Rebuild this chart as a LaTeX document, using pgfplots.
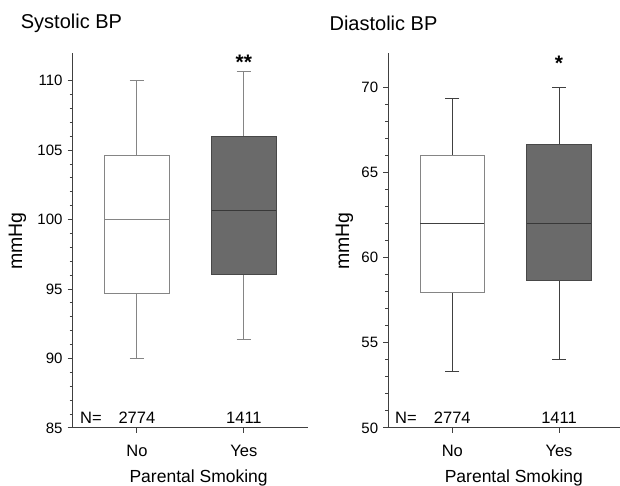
\documentclass[border=0pt]{standalone}
\usepackage{fontspec}
\setmainfont{Liberation Sans}
\usepackage{pgfplots}
\pgfplotsset{compat=1.18}
\usepgfplotslibrary{statistics}

\definecolor{axgray}{HTML}{404040}
\definecolor{boxdark}{HTML}{6A6A6A}
\definecolor{edgedark}{HTML}{484848}
\definecolor{meddark}{HTML}{383838}
\definecolor{lightedge}{HTML}{858585}

\pgfplotsset{
  bpstyle/.style={
    scale only axis,
    height=375pt,
    anchor=south west,
    axis x line=bottom,
    axis y line=left,
    axis line style={-, axgray, line width=1pt},
    tick style={axgray, line width=1pt},
    tick align=outside,
    major tick length=5pt,
    minor tick length=3pt,
    minor y tick num=4,
    xtick={1,2},
    xticklabels={No,Yes},
    xmin=0.4, xmax=2.6,
    clip=false,
    boxplot/draw direction=y,
    /pgf/number format/assume math mode=true,
    yticklabel style={font=\fontsize{15}{18}\selectfont, inner sep=0pt, xshift=-5pt},
    xticklabel style={font=\fontsize{16.5}{20}\selectfont, inner sep=0pt, yshift=-12pt},
    xlabel={Parental Smoking},
    xlabel style={font=\fontsize{17.5}{21}\selectfont, inner sep=0pt, anchor=north,
      at={(axis description cs:0.535,0)}, yshift=-42pt},
    ylabel={mmHg},
    title style={font=\fontsize{20}{24}\selectfont, inner sep=0pt, anchor=west},
  }
}

\begin{document}
\begin{tikzpicture}
\path[use as bounding box] (0,0) rectangle (620pt,486pt);

% Systolic BP
\begin{axis}[bpstyle,
  at={(72.7pt,58pt)},
  width=235.4pt,
  ymin=85, ymax=112,
  ytick={85,90,95,100,105,110},
  title={Systolic BP},
  title style={at={(axis description cs:-0.221,1.064)}},
  ylabel style={font=\fontsize{19.5}{23}\selectfont, inner sep=0pt, anchor=center,
    at={(axis description cs:-0.2346,0.499)}},
]
\addplot+[mark=none, draw=lightedge, fill=white, solid, line width=1pt,
  boxplot prepared={draw position=1, median=100, upper quartile=104.65,
    lower quartile=94.65, upper whisker=110, lower whisker=90,
    box extend=0.6, whisker extend=0.13,
    every whisker/.style={lightedge, line width=1pt},
    every median/.style={lightedge, line width=1pt}}] coordinates {};
\addplot+[mark=none, draw=edgedark, fill=boxdark, solid, line width=1pt,
  boxplot prepared={draw position=2, median=100.67, upper quartile=105.97,
    lower quartile=96.03, upper whisker=110.65, lower whisker=91.37,
    box extend=0.6, whisker extend=0.13,
    every whisker/.style={lightedge, line width=1pt},
    every median/.style={meddark, line width=1.4pt}}] coordinates {};
\node[anchor=base west, inner sep=0pt, font=\fontsize{16.5}{20}\selectfont] at (axis cs:0.468,85.34) {N=};
\node[anchor=base, inner sep=0pt, font=\fontsize{16.5}{20}\selectfont] at (axis cs:1,85.34) {2774};
\node[anchor=base, inner sep=0pt, font=\fontsize{16.5}{20}\selectfont] at (axis cs:2,85.34) {1411};
\node[anchor=base, inner sep=0pt, font=\fontsize{21}{25}\selectfont\bfseries] at (axis cs:2,110.8) {**};
\end{axis}

% Diastolic BP
\begin{axis}[bpstyle,
  at={(388.3pt,58pt)},
  width=234.7pt,
  ymin=50, ymax=72,
  ytick={50,55,60,65,70},
  title={Diastolic BP},
  title style={at={(axis description cs:-0.251,1.064)}},
  ylabel style={font=\fontsize{19.5}{23}\selectfont, inner sep=0pt, anchor=center,
    at={(axis description cs:-0.187,0.499)}},
]
\addplot+[mark=none, draw=lightedge, fill=white, solid, line width=1pt,
  boxplot prepared={draw position=1, median=62, upper quartile=66.01,
    lower quartile=57.95, upper whisker=69.34, lower whisker=53.33,
    box extend=0.6, whisker extend=0.13,
    every whisker/.style={axgray, line width=1pt},
    every median/.style={axgray, line width=1pt}}] coordinates {};
\addplot+[mark=none, draw=edgedark, fill=boxdark, solid, line width=1pt,
  boxplot prepared={draw position=2, median=62, upper quartile=66.64,
    lower quartile=58.63, upper whisker=70, lower whisker=54.02,
    box extend=0.6, whisker extend=0.13,
    every whisker/.style={axgray, line width=1pt},
    every median/.style={meddark, line width=1.4pt}}] coordinates {};
\node[anchor=base west, inner sep=0pt, font=\fontsize{16.5}{20}\selectfont] at (axis cs:0.463,50.29) {N=};
\node[anchor=base, inner sep=0pt, font=\fontsize{16.5}{20}\selectfont] at (axis cs:1,50.29) {2774};
\node[anchor=base, inner sep=0pt, font=\fontsize{16.5}{20}\selectfont] at (axis cs:2,50.29) {1411};
\node[anchor=base, inner sep=0pt, font=\fontsize{21}{25}\selectfont\bfseries] at (axis cs:2,70.95) {*};
\end{axis}
\end{tikzpicture}
\end{document}
